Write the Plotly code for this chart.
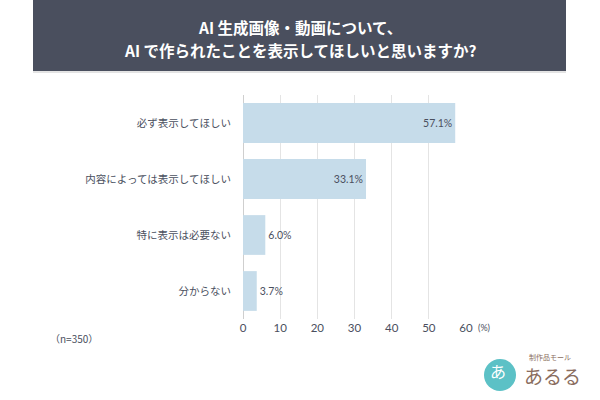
import plotly.graph_objects as go

categories = ["必ず表示してほしい", "内容によっては表示してほしい", "特に表示は必要ない", "分からない"]
values = [57.1, 33.1, 6.0, 3.7]
value_labels = ["57.1%", "33.1%", "6.0%", "3.7%"]
label_positions = ["inside", "inside", "outside", "outside"]
tick_values = [0, 10, 20, 30, 40, 50, 60]
title_line1 = "AI 生成画像・動画について、"
title_line2 = "AI で作られたことを表示してほしいと思いますか?"
note = "（n=350）"

W, H = 600, 400
L, R, T, B = 243, 466, 95, 319  # plot area in pixels

def px(x):
    return (x - L) / (R - L)

def py(y):
    return (B - y) / (B - T)

JP = "Noto Sans CJK JP"
NUM = "Lato, Noto Sans CJK JP"

fig = go.Figure(go.Bar(
    y=categories, x=values, orientation="h",
    marker=dict(color="#c6dcea", line=dict(width=0)),
    text=value_labels, textposition=label_positions,
    insidetextanchor="end",
    textfont=dict(family=NUM, size=10.5, color="#4a4f5e"),
    cliponaxis=False, width=0.71,
))

fig.update_layout(
    width=W, height=H,
    margin=dict(l=L, r=W - R, t=T, b=H - B, pad=0),
    paper_bgcolor="white", plot_bgcolor="white",
    showlegend=False,
    xaxis=dict(range=[0, 60], tickvals=tick_values, showgrid=True,
               gridcolor="#e4e4e4", gridwidth=1, zeroline=True,
               zerolinecolor="#cfcfcf", zerolinewidth=1,
               tickfont=dict(family=NUM, size=11.5, color="#4a4f5e"),
               ticks="", showline=False, fixedrange=True),
    yaxis=dict(autorange="reversed", showgrid=False, zeroline=False,
               tickfont=dict(family=JP, size=10.5, color="#4a4f5e"),
               ticks="outside", ticklen=9, tickcolor="rgba(0,0,0,0)",
               showline=False),
    uniformtext=dict(minsize=8),
)

shapes = [
    dict(type="rect", xref="paper", yref="paper",
         x0=px(33), x1=px(566), y0=py(71), y1=py(0),
         fillcolor="#4a4f5e", line=dict(width=0), layer="below"),
    dict(type="line", xref="paper", yref="paper",
         x0=px(33), x1=px(566), y0=py(72), y1=py(72),
         line=dict(color="#c8c8c8", width=1)),
    dict(type="circle", xref="paper", yref="paper",
         x0=px(484), x1=px(516), y0=py(391), y1=py(359),
         fillcolor="#5cc1c6", line=dict(width=0)),
]
fig.update_layout(shapes=shapes)

ann = [
    dict(text=f"<b>{title_line1}</b>", x=px(300), y=py(27), xref="paper", yref="paper",
         showarrow=False, xanchor="center", yanchor="middle",
         font=dict(family=JP, size=15.5, color="white")),
    dict(text=f"<b>{title_line2}</b>", x=px(300), y=py(50), xref="paper", yref="paper",
         showarrow=False, xanchor="center", yanchor="middle",
         font=dict(family=JP, size=15.5, color="white")),
    dict(text="(%)", x=60, xref="x", y=py(327), yref="paper", xshift=10,
         showarrow=False, xanchor="left", yanchor="middle",
         font=dict(family=NUM, size=9, color="#4a4f5e")),
    dict(text=note, x=px(48), y=py(338), xref="paper", yref="paper",
         showarrow=False, xanchor="left", yanchor="middle",
         font=dict(family=JP, size=10, color="#4a4f5e")),
    dict(text="あ", x=px(498), y=py(371), xref="paper", yref="paper",
         showarrow=False, xanchor="center", yanchor="middle",
         font=dict(family=JP, size=16, color="white")),
    dict(text="制作品モール", x=px(550), y=py(357), xref="paper", yref="paper",
         showarrow=False, xanchor="center", yanchor="middle",
         font=dict(family=JP, size=7, color="#8a6d5e")),
    dict(text="あるる", x=px(552), y=py(375), xref="paper", yref="paper",
         showarrow=False, xanchor="center", yanchor="middle",
         font=dict(family=JP, size=19, color="#8a6d5e")),
]
fig.update_layout(annotations=ann)

fig.write_html("out.html")
